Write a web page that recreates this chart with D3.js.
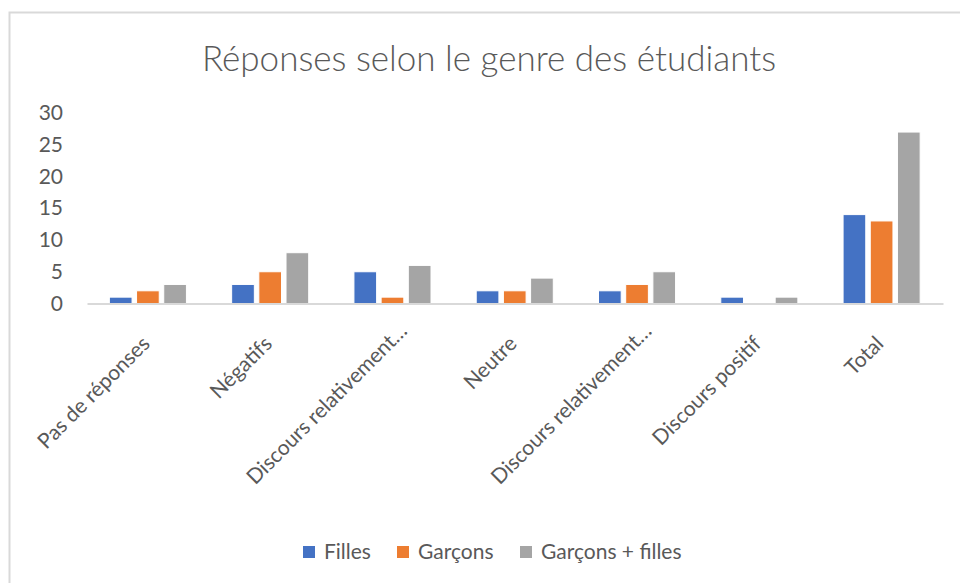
<!DOCTYPE html>
<html>
  <head>
    <meta charset="utf-8">
    <script src="https://d3js.org/d3.v7.min.js"></script>
    <title>Réponses selon le genre des étudiants</title>
    <style>
      body {
        margin: 0;
        background: white;
      }
      text {
        font-family: Lato, "Open Sans", sans-serif;
        fill: #595959;
      }
    </style>
  </head>
  <body>
    <div id="chart"></div>
    <script>
      // Data
      const categories = [
        "Pas de réponses",
        "Négatifs",
        "Discours relativement…",
        "Neutre",
        "Discours relativement…",
        "Discours positif",
        "Total"
      ];
      const seriesNames = ["Filles", "Garçons", "Garçons + filles"];
      const filles = [1, 3, 5, 2, 2, 1, 14];
      const garcons = [2, 5, 1, 2, 3, 0, 13];
      const garconsFilles = [3, 8, 6, 4, 5, 1, 27];
      const yTicks = [0, 5, 10, 15, 20, 25, 30];
      const colors = ["#4472C4", "#ED7D31", "#A5A5A5"];

      const WIDTH = 960;
      const HEIGHT = 583;
      const PLOT_LEFT = 87;
      const PLOT_RIGHT = 943;
      const PLOT_TOP = 113;
      const PLOT_BOTTOM = 303.5;
      const LABEL_SIZE = "21px";

      const svg = d3
        .select("#chart")
        .append("svg")
        .attr("width", WIDTH)
        .attr("height", HEIGHT);

      // chart frame
      svg
        .append("rect")
        .attr("x", 9.5)
        .attr("y", 12.5)
        .attr("width", 1000)
        .attr("height", 700)
        .attr("fill", "none")
        .attr("stroke", "#d9d9d9")
        .attr("stroke-width", 2);

      // title
      svg
        .append("text")
        .attr("x", 489)
        .attr("y", 71)
        .attr("text-anchor", "middle")
        .style("font-size", "35px")
        .style("font-weight", 300)
        .text("Réponses selon le genre des étudiants");

      // rows of values, one per category
      const rows = categories.map((c, i) => ({
        index: i,
        values: [filles[i], garcons[i], garconsFilles[i]]
      }));

      const x0 = d3
        .scaleBand()
        .domain(d3.range(categories.length))
        .range([PLOT_LEFT, PLOT_RIGHT])
        .paddingInner(0.333)
        .paddingOuter(0.1665);

      const x1 = d3
        .scaleBand()
        .domain(d3.range(seriesNames.length))
        .range([0, x0.bandwidth()]);

      const y = d3
        .scaleLinear()
        .domain([0, 30])
        .range([PLOT_BOTTOM, PLOT_TOP]);

      // y axis labels, no line
      const yAxis = svg
        .append("g")
        .attr("transform", `translate(${63},0)`)
        .call(d3.axisLeft(y).tickValues(yTicks).tickSize(0).tickPadding(0));
      yAxis.select(".domain").remove();
      yAxis
        .selectAll("text")
        .style("font-size", LABEL_SIZE)
        .attr("fill", "#595959");

      // bars
      const groups = svg
        .selectAll(".group")
        .data(rows)
        .enter()
        .append("g")
        .attr("class", "group")
        .attr("transform", (d) => `translate(${x0(d.index)},0)`);

      groups
        .selectAll("rect")
        .data((d) => d.values.map((v, s) => ({ s: s, v: v })))
        .enter()
        .append("rect")
        .attr("x", (d) => x1(d.s) + 2)
        .attr("width", x1.bandwidth() - 4.5)
        .attr("y", (d) => y(d.v))
        .attr("height", (d) => y(0) - y(d.v))
        .attr("fill", (d) => colors[d.s])
        .attr("stroke", "white")
        .attr("stroke-width", 1)
        .style("display", (d) => (d.v === 0 ? "none" : null));

      // baseline
      const xAxis = svg
        .append("g")
        .attr("transform", `translate(0,${PLOT_BOTTOM})`)
        .call(d3.axisBottom(x0).tickSize(0).tickFormat(() => ""));
      xAxis.select(".domain").attr("stroke", "#d9d9d9").attr("stroke-width", 2);

      // rotated category labels
      svg
        .selectAll(".cat-label")
        .data(rows)
        .enter()
        .append("text")
        .attr("class", "cat-label")
        .attr("text-anchor", "end")
        .attr(
          "transform",
          (d) =>
            `translate(${x0(d.index) + x0.bandwidth() / 2 + 3},345) rotate(-45)`
        )
        .attr("dx", (d) => (categories[d.index].endsWith("…") ? 18 : 0))
        .style("font-size", LABEL_SIZE)
        .text((d) => categories[d.index]);

      // legend
      const legendX = [303, 397, 520];
      const legend = svg
        .selectAll(".legend")
        .data(seriesNames)
        .enter()
        .append("g")
        .attr("class", "legend")
        .attr("transform", (d, i) => `translate(${legendX[i]},546)`);
      legend
        .append("rect")
        .attr("width", 12)
        .attr("height", 12)
        .attr("fill", (d, i) => colors[i]);
      legend
        .append("text")
        .attr("x", 21)
        .attr("y", 13)
        .style("font-size", LABEL_SIZE)
        .text((d) => d);
    </script>
  </body>
</html>
